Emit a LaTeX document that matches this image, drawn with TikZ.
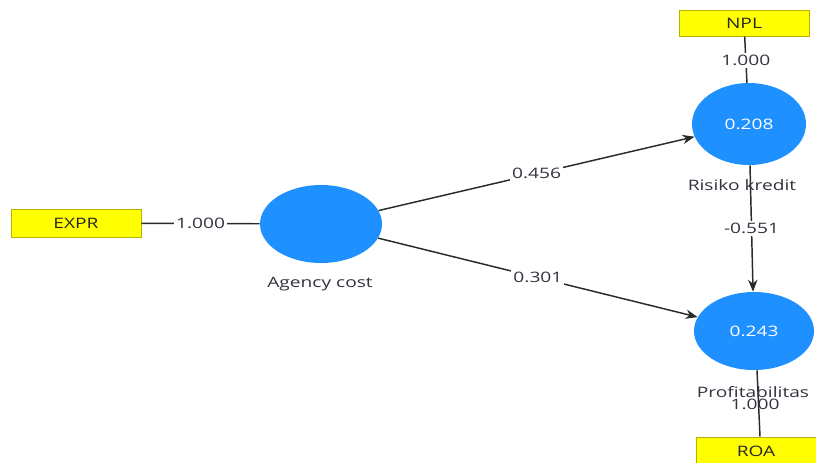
\documentclass[tikz,border=0pt]{standalone}
\usepackage{fontspec}
\setmainfont{Open Sans}[FakeStretch=1.33]
\usetikzlibrary{shapes.geometric,arrows.meta}
\definecolor{lvblue}{HTML}{1E90FF}
\definecolor{indyellow}{HTML}{FFFF00}
\definecolor{indborder}{HTML}{B4B400}
\definecolor{inktext}{HTML}{33333F}
\definecolor{edgegray}{HTML}{2A2A2A}
\begin{document}
\begin{tikzpicture}[x=0.75pt,y=-0.75pt,
  font=\fontsize{10.8pt}{12pt}\selectfont,
  latent/.style={ellipse,fill=lvblue,draw=none,inner sep=0pt,text=white},
  indicator/.style={rectangle,fill=indyellow,draw=indborder,line width=0.5pt,
    inner sep=0pt,minimum width=97.5pt,minimum height=21pt,text=black!85},
  link/.style={draw=edgegray,line width=1.1pt},
  path/.style={link,-{Stealth[length=9pt,width=7pt]}},
  coef/.style={fill=white,inner sep=1.5pt,text=inktext},
  caption/.style={text=inktext,inner sep=0pt}]
  \useasboundingbox (0,0) rectangle (816,462);
  \begin{scope}
    \clip (0,0) rectangle (816,462);
    % indicators
    \node[indicator] (expr) at (76,223) {EXPR};
    \node[indicator,minimum height=19.5pt] (npl) at (744,23) {NPL};
    \node[indicator,minimum width=90pt] (roa) at (756,451) {ROA};
    % latent variables
    \node[latent,minimum width=91.5pt,minimum height=58.5pt] (agency) at (321,224) {};
    \node[latent,minimum width=85.5pt,minimum height=61.5pt] (risk) at (749,124) {0.208};
    \node[latent,minimum width=90pt,minimum height=58.5pt] (profit) at (754,331) {0.243};
    % measurement links
    \draw[link] (expr) -- node[coef] (lexpr) {1.000} (agency);
    \draw[link] (npl) -- node[coef,pos=0.52] (lnpl) {1.000} (risk);
    \draw[link] (profit.south) ++(3,0) coordinate (ptop) -- (roa.north -| 760,0) coordinate (rtop);
    % structural paths
    \draw[path] (agency) -- node[coef] (l456) {0.456} (risk);
    \draw[path] (agency) -- node[coef] (l301) {0.301} (profit);
    \draw[path] (risk) -- node[coef] (l551) {-0.551} (profit);
    % variable names
    \node[caption] (cagency) at (320,284) {Agency cost};
    \node[caption] (crisk) at (742,185) {Risiko kredit};
    \node[caption] (lroa) at (755,404) {1.000};
    \node[caption] (cprofit) at (753,392) {Profitabilitas};
  \end{scope}
\end{tikzpicture}
\end{document}
